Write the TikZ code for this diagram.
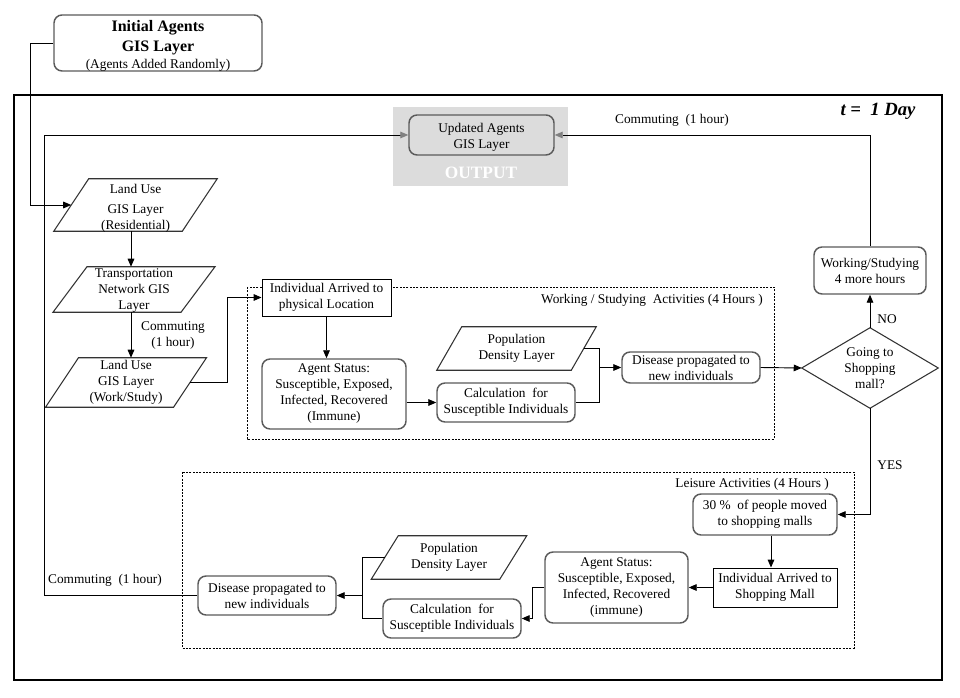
\documentclass[tikz,border=0pt]{standalone}
\usepackage{fontspec}
\setmainfont{Liberation Serif}
\usetikzlibrary{arrows.meta,calc}
\definecolor{outgray}{HTML}{DCDCDC}
\definecolor{bordgray}{HTML}{5A5A5A}
\newcommand\parashape[2]{\draw[pline] ($(#1.north west)+(#2/2,0)$) -- ($(#1.north east)+(#2/2,0)$) -- ($(#1.south east)-(#2/2,0)$) -- ($(#1.south west)-(#2/2,0)$) -- cycle;}
\begin{document}
\begin{tikzpicture}[x=0.75pt,y=-0.75pt,
  every node/.style={font=\fontsize{10}{12}\selectfont, align=center, inner sep=0pt},
  sz/.style 2 args={minimum width=#1*0.75pt, minimum height=#2*0.75pt},
  rbox/.style={draw=bordgray, line width=1.1pt, rounded corners=6pt, fill=white},
  sbox/.style={draw=black, line width=0.7pt, fill=white},
  pline/.style={draw=black!80, line width=0.8pt, fill=white},
  arr/.style={-{Triangle[length=6pt,width=5pt]}, line width=0.7pt},
  garr/.style={-{Triangle[length=6pt,width=5pt,color=black!50]}, line width=0.7pt},
  plain/.style={line width=0.7pt},
  dbox/.style={draw=black, line width=0.6pt, dash pattern=on 1.5pt off 1pt},
  lbl/.style={font=\fontsize{10}{12}\selectfont}
]
\useasboundingbox (0,0) rectangle (960,698);
% frames
\fill[outgray] (393,107) rectangle (568,186);
\draw[line width=2.2pt] (14,95) rectangle (942,680);
\draw[dbox] (247,287) rectangle (774,439);
\draw[dbox] (182,472) rectangle (854,648);

% coordinates for vertical connector lines
\coordinate (ax) at (131,0);
\coordinate (jx) at (599,0);
\coordinate (bx) at (771,0);
\coordinate (kx) at (362,0);
\coordinate (lx) at (44,0);

% nodes
\node[rbox, sz={208}{56}] (init) at (158,43) {};
\node[font=\fontsize{12}{14.5}\selectfont\bfseries] (initt) at (158,46)
  {Initial Agents\\GIS Layer\\[-1.5pt]{\fontsize{10}{12}\selectfont\mdseries (Agents Added Randomly)}};
\node[rbox, fill=outgray, sz={145}{40}] (upd) at (481.5,135) {};
\node (updt) at (481.5,137) {Updated Agents\\GIS Layer};
\node[font=\fontsize{13}{15}\selectfont\bfseries, text=white] (out) at (481,173) {OUTPUT};
\node[font=\fontsize{14}{16}\selectfont\bfseries\itshape] (tday) at (878,111) {t =~ 1 Day};

\node[sz={128}{52}] (lu1) at (135.5,205) {};
\parashape{lu1}{35}
\node at (135.5,208.5) {Land Use\\[3pt]GIS Layer\\(Residential)};
\node[sz={127.5}{45}] (tr) at (134,289.5) {};
\parashape{tr}{34}
\node at (134,290.5) {Transportation\\Network GIS\\Layer};
\node[sz={127.5}{49}] (lu2) at (126,382.5) {};
\parashape{lu2}{33}
\node at (lu2) {Land Use\\GIS Layer\\(Work/Study)};
\node[lbl] (comm0) at (173,336) {Commuting\\(1 hour)};

\node[sbox, sz={129}{37}] (ind1) at (326.5,297.5) {Individual Arrived to\\physical Location};
\node[rbox, sz={144}{70}] (ag1) at (334,394) {Agent Status:\\Susceptible, Exposed,\\Infected, Recovered\\(Immune)};
\node[rbox, sz={138}{39}] (calc1) at (506,402.5) {Calculation~ for\\Susceptible Individuals};
\node[sz={134}{43}] (pop1) at (516.5,348.5) {};
\parashape{pop1}{25}
\node at (pop1) {Population\\Density Layer};
\node[rbox, sz={138}{31}] (dis1) at (691,367.5) {Disease propagated to\\new individuals};
\node[anchor=east] (wlab) at (763,300) {Working / Studying~ Activities (4 Hours )};

\node[sz={136}{80}] (dia) at (870,368) {Going to\\Shopping\\mall?};
\draw[pline, fill=none] (dia.west) -- (dia.north) -- (dia.east) -- (dia.south) -- cycle;
\node[rbox, sz={112}{47}] (ws) at (870,270.5) {Working/Studying\\4 more hours};
\node[lbl] (no) at (887,319) {NO};
\node[lbl] (yes) at (890,465) {YES};
\node[lbl] (comm1) at (672,120) {Commuting~ (1 hour)};

\node[anchor=east] (llab) at (829,484) {Leisure Activities (4 Hours )};
\node[rbox, sz={144}{41}] (p30) at (765,514.5) {30 \%~ of people moved\\to shopping malls};
\node[sbox, sz={124}{39}] (ind2) at (775,587.5) {Individual Arrived to\\Shopping Mall};
\node[rbox, sz={143}{71}] (ag2) at (616.5,587.5) {Agent Status:\\Susceptible, Exposed,\\Infected, Recovered\\(immune)};
\node[rbox, sz={138}{39}] (calc2) at (452,618.5) {Calculation~ for\\Susceptible Individuals};
\node[sz={128}{43}] (pop2) at (449,557.5) {};
\parashape{pop2}{27}
\node at (pop2) {Population\\Density Layer};
\node[rbox, sz={138}{39}] (dis2) at (267,595.5) {Disease propagated to\\new individuals};
\node[lbl] (comm2) at (105,580) {Commuting~ (1 hour)};

% connectors
\draw[arr] (init.west) -- ++(-23,0) |- (lu1.west);
\draw[arr] (lu1.south -| ax) -- (tr.north -| ax);
\draw[arr] (tr.south -| ax) -- (lu2.north -| ax);
\draw[arr] (lu2.east) -- ++(37,0) |- (ind1.west);
\draw[arr] (ind1.south) -- (ind1.south |- ag1.north);
\draw[arr] (calc1.west -| ag1.east) -- (calc1.west);
\draw[plain] (pop1.east) -- (pop1.east -| jx) -- (calc1.east -| jx) -- (calc1.east);
\draw[arr] (dis1.west -| jx) -- (dis1.west);
\draw[arr] (dis1.east) -- (dia.west);
\draw[arr] (dia.north) -- (ws.south);
\draw[garr] (ws.north) |- (upd.east);
\draw[arr] (dia.south) |- (p30.east);
\draw[arr] (p30.south -| bx) -- (ind2.north -| bx);
\draw[arr] (ind2.west) -- (ag2.east);
\draw[arr] (ag2.west) -- ++(-12,0) |- (calc2.east);
\draw[plain] (pop2.west) -- (pop2.west -| kx) -- (calc2.west -| kx) -- (calc2.west);
\draw[arr] (dis2.east -| kx) -- (dis2.east);
\draw[garr] (dis2.west) -- (dis2.west -| lx) |- (upd.west);
\end{tikzpicture}
\end{document}
